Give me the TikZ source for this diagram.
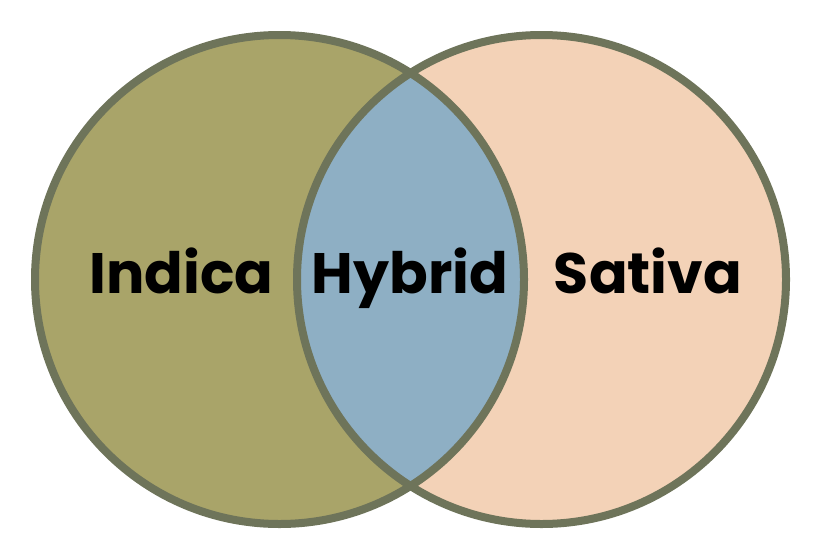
\documentclass[tikz,border=0pt]{standalone}
\usepackage{fontspec}
\setmainfont{Poppins}
\usetikzlibrary{positioning}
\definecolor{indicafill}{HTML}{A9A469}
\definecolor{sativafill}{HTML}{F3D2B7}
\definecolor{hybridfill}{HTML}{8EAFC4}
\definecolor{rimcolor}{HTML}{6E745A}
\begin{document}
\begin{tikzpicture}[x=1pt,y=-1pt,
	rim/.style={draw=rimcolor,line width=8pt},
	setname/.style={font=\fontsize{57}{57}\selectfont\bfseries,anchor=base,inner sep=0pt}]
	\useasboundingbox (0,0) rectangle (821,546);
	
	% Circle 1
	\fill[indicafill] (279.5,279.5) circle (244.5pt);
	% Circle 2
	\fill[sativafill] (541.5,279.5) circle (244.5pt);
	% Overlap
	\begin{scope}
		\clip (279.5,279.5) circle (244.5pt);
		\fill[hybridfill] (541.5,279.5) circle (244.5pt);
	\end{scope}
	\draw[rim] (279.5,279.5) circle (244.5pt);
	\draw[rim] (541.5,279.5) circle (244.5pt);
	
	\node[setname] (indica) at (181.5,293) {Indica};
	\node[setname] (hybrid) at (410,293) {Hybrid};
	\node[setname] (sativa) at (648,293) {Sativa};
\end{tikzpicture}
\end{document}
